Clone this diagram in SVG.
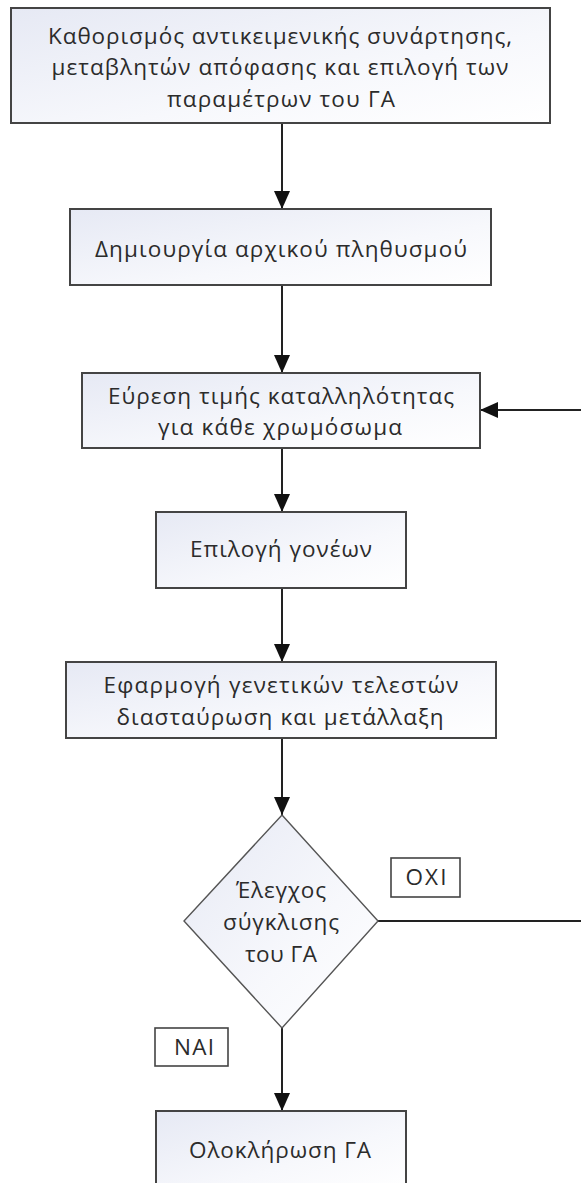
<svg xmlns="http://www.w3.org/2000/svg" width="581" height="1183" viewBox="0 0 581 1183">
<defs>
<linearGradient id="g" x1="0" y1="0" x2="1" y2="1">
<stop offset="0" stop-color="#e6e9f4"/>
<stop offset="0.6" stop-color="#f7f8fc"/>
<stop offset="1" stop-color="#ffffff"/>
</linearGradient>
<marker id="ah" markerUnits="userSpaceOnUse" markerWidth="18" markerHeight="16" refX="18" refY="8" orient="auto">
<path d="M0,0 L18,8 L0,16 z" fill="#111"/>
</marker>
<style>
.box{fill:url(#g);stroke:#444;stroke-width:2}
.dia{fill:url(#g);stroke:#555;stroke-width:1.4}
.lab{fill:#fff;stroke:#444;stroke-width:1.6}
.t{font-family:"Open Sans","DejaVu Sans",sans-serif;font-size:22.5px;fill:#2b2b2b;text-anchor:middle}
.c{fill:none;stroke:#222;stroke-width:2}
</style>
</defs>
<rect width="581" height="1183" fill="#fff"/>
<g id="connectors">
<path class="c" d="M282,123 V209" marker-end="url(#ah)"/>
<path class="c" d="M282,285 V373" marker-end="url(#ah)"/>
<path class="c" d="M282,448 V512" marker-end="url(#ah)"/>
<path class="c" d="M282,588 V662" marker-end="url(#ah)"/>
<path class="c" d="M282,738 V815" marker-end="url(#ah)"/>
<path class="c" d="M282,1028 V1111" marker-end="url(#ah)"/>
<path class="c" d="M378,921 H590 V410 H480" marker-end="url(#ah)"/>
</g>
<g id="n1">
<rect class="box" x="11" y="8" width="539" height="115"/>
<text class="t" x="280" y="44" textLength="464" lengthAdjust="spacing">Καθορισμός αντικειμενικής συνάρτησης,</text>
<text class="t" x="280" y="75" textLength="457" lengthAdjust="spacing">μεταβλητών απόφασης και επιλογή των</text>
<text class="t" x="281" y="107" textLength="228" lengthAdjust="spacing">παραμέτρων του ΓΑ</text>
</g>
<g id="n2">
<rect class="box" x="70" y="209" width="421" height="76"/>
<text class="t" x="281" y="257" textLength="372" lengthAdjust="spacing">Δημιουργία αρχικού πληθυσμού</text>
</g>
<g id="n3">
<rect class="box" x="82" y="373" width="398" height="75"/>
<text class="t" x="281" y="404" textLength="346" lengthAdjust="spacing">Εύρεση τιμής καταλληλότητας</text>
<text class="t" x="280" y="435" textLength="244" lengthAdjust="spacing">για κάθε χρωμόσωμα</text>
</g>
<g id="n4">
<rect class="box" x="156" y="512" width="250" height="76"/>
<text class="t" x="281" y="557" textLength="182" lengthAdjust="spacing">Επιλογή γονέων</text>
</g>
<g id="n5">
<rect class="box" x="66" y="662" width="430" height="76"/>
<text class="t" x="281" y="693" textLength="355" lengthAdjust="spacing">Εφαρμογή γενετικών τελεστών</text>
<text class="t" x="280" y="725" textLength="327" lengthAdjust="spacing">διασταύρωση και μετάλλαξη</text>
</g>
<g id="n6">
<polygon class="dia" points="282,815 378,921 282,1028 184,921"/>
<text class="t" x="281" y="898" textLength="90" lengthAdjust="spacing">Έλεγχος</text>
<text class="t" x="281" y="930" textLength="116" lengthAdjust="spacing">σύγκλισης</text>
<text class="t" x="281" y="962" textLength="72" lengthAdjust="spacing">του ΓΑ</text>
</g>
<g id="n7">
<rect class="box" x="156" y="1111" width="250" height="80"/>
<text class="t" x="280" y="1158" textLength="182" lengthAdjust="spacing">Ολοκλήρωση ΓΑ</text>
</g>
<g id="lbl-oxi">
<rect class="lab" x="391" y="858" width="69" height="39"/>
<text class="t" x="426" y="885" textLength="41" lengthAdjust="spacing">ΟΧΙ</text>
</g>
<g id="lbl-nai">
<rect class="lab" x="155" y="1028" width="73" height="38"/>
<text class="t" x="194" y="1055" textLength="40" lengthAdjust="spacing">ΝΑΙ</text>
</g>
</svg>
